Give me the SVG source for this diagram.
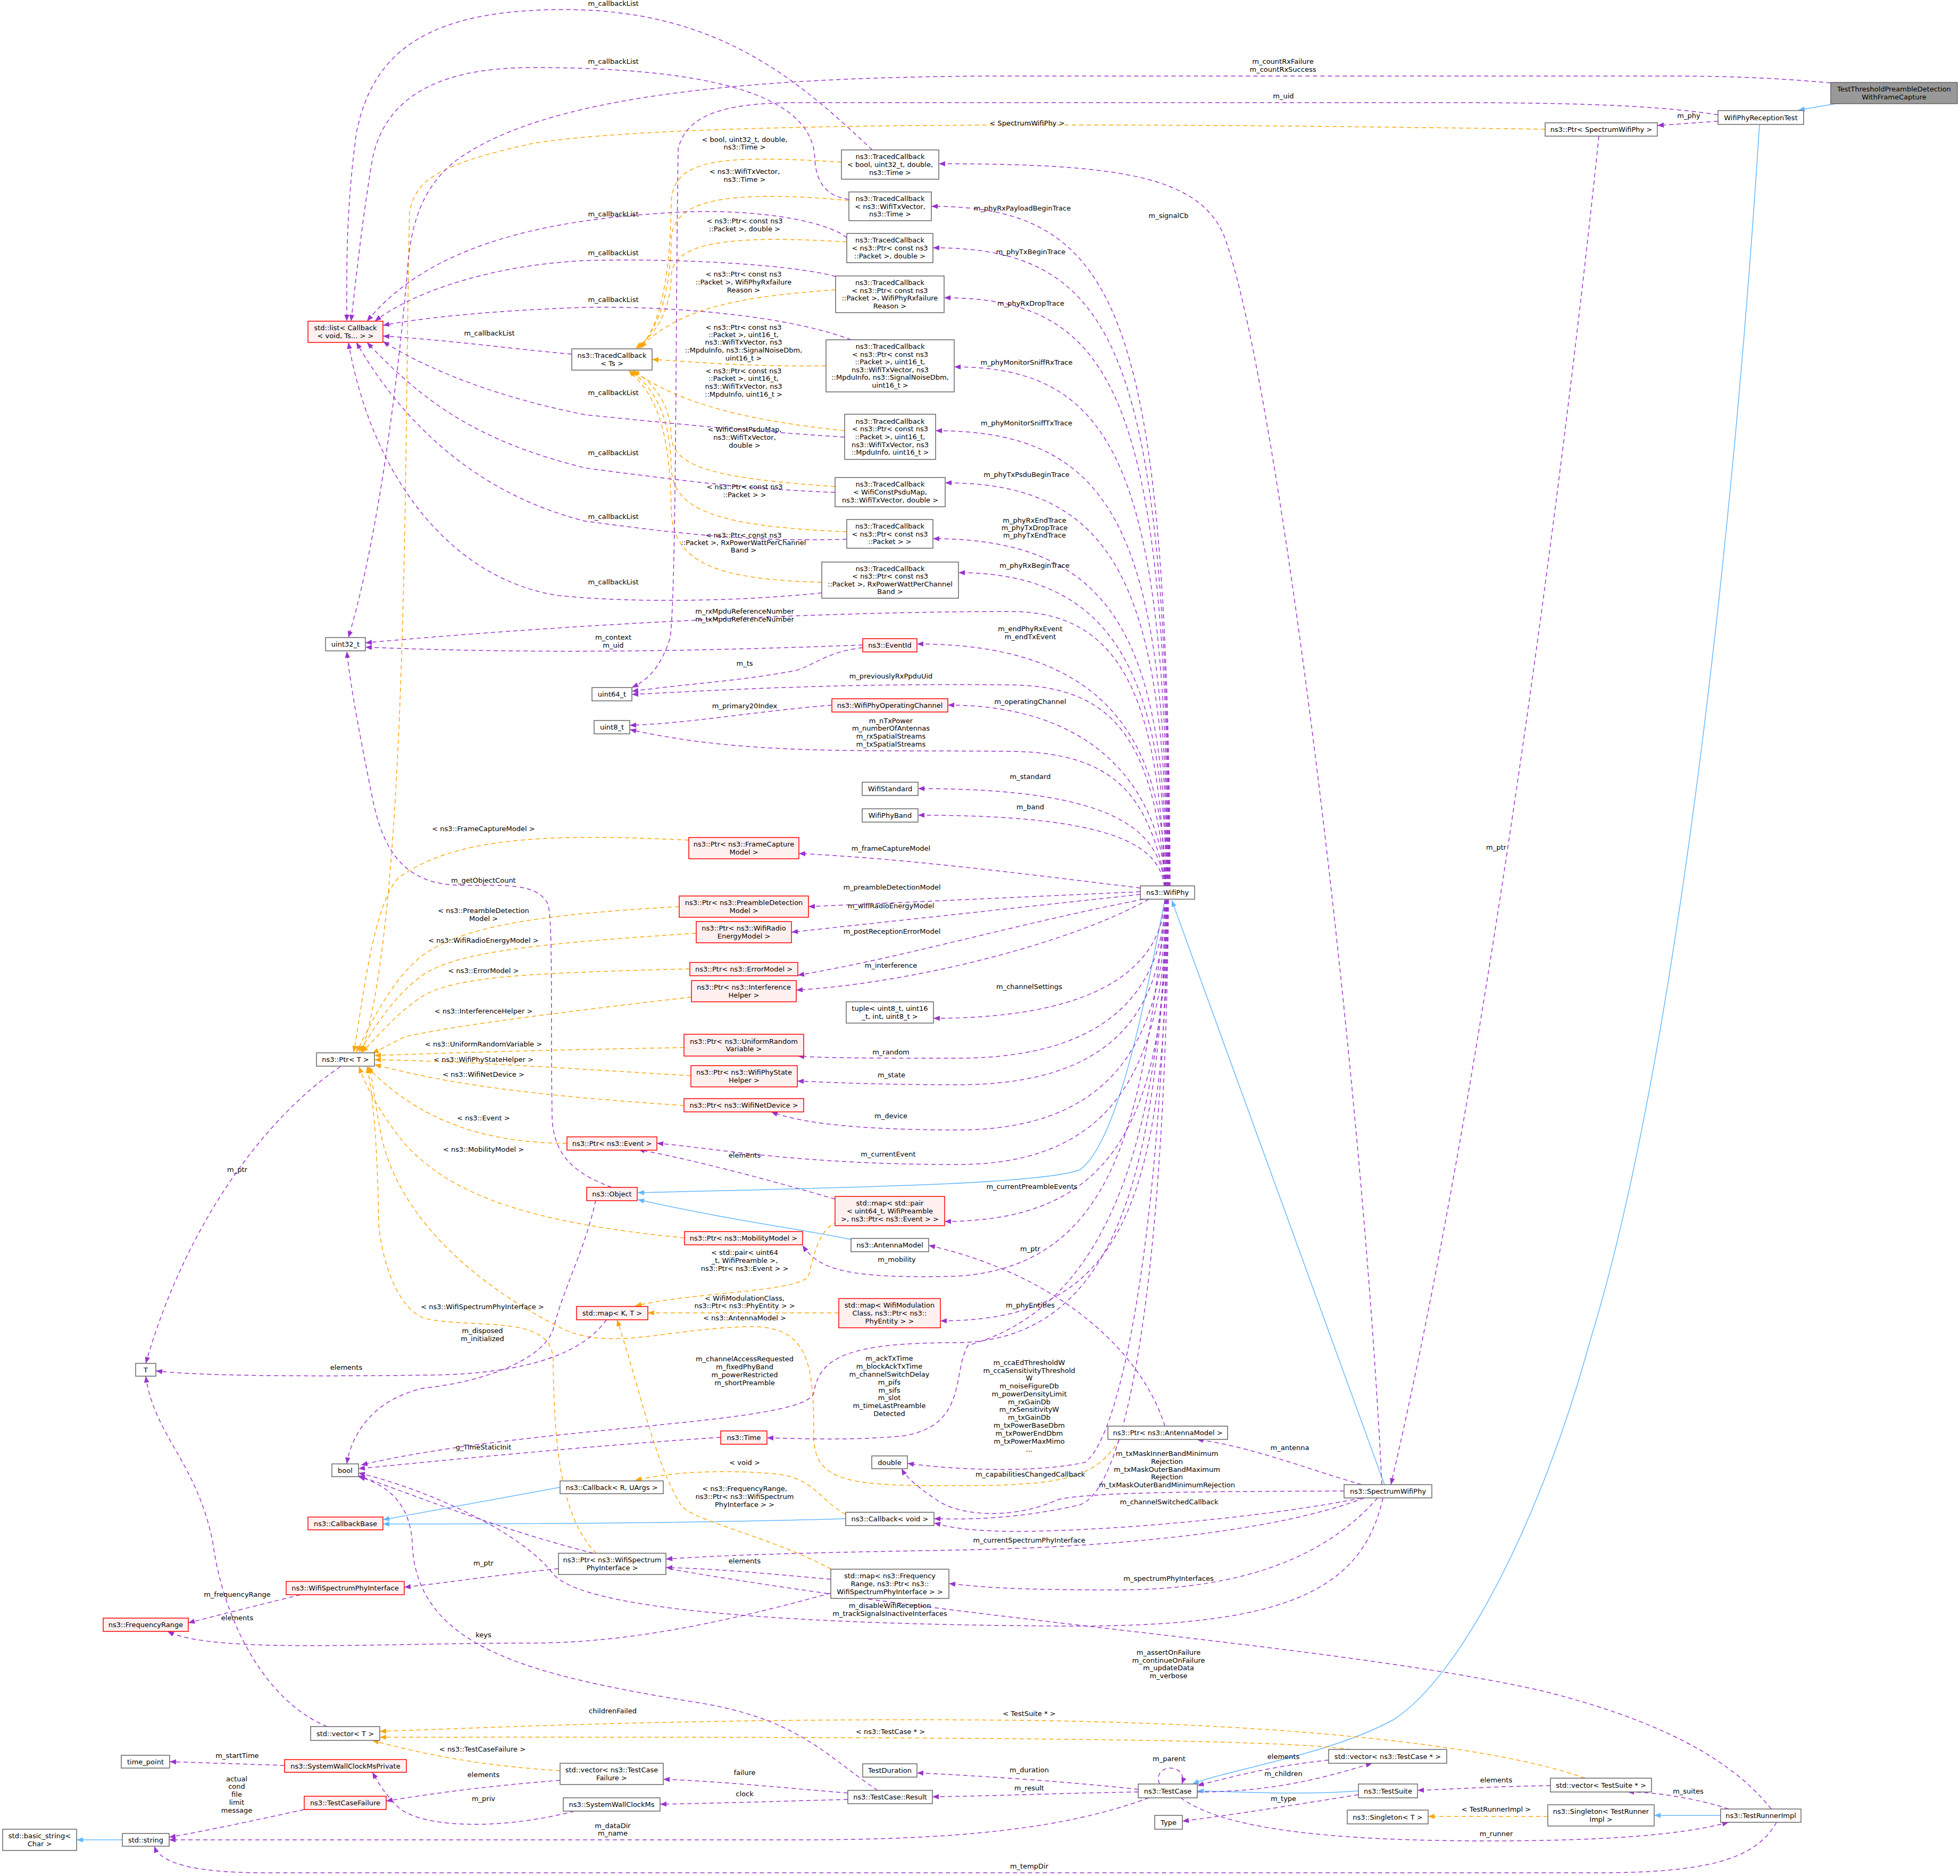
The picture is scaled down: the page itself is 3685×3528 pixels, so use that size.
<svg xmlns="http://www.w3.org/2000/svg" width="3685" height="3528" viewBox="0 0 3685 3528">
<style>
rect{stroke-width:1.5}
.n{fill:#fff;stroke:#666}
.r{fill:#fff0f0;stroke:#f00}
.g{fill:#999;stroke:#666}
text{font-family:"DejaVu Sans",sans-serif;font-size:13px;fill:#000;text-anchor:middle}
.p{fill:none;stroke:#9a32cd;stroke-width:1.5;stroke-dasharray:8,6;marker-end:url(#ap)}
.o{fill:none;stroke:#ffa500;stroke-width:1.5;stroke-dasharray:8,6;marker-end:url(#ao)}
.b{fill:none;stroke:#63b8ff;stroke-width:1.5;marker-end:url(#ab)}
</style>
<defs>
<marker id="ap" viewBox="0 0 10 10" refX="10" refY="5" markerWidth="15" markerHeight="12" markerUnits="userSpaceOnUse" orient="auto"><path d="M0,1 L10,5 L0,9 z" fill="#9a32cd"/></marker>
<marker id="ao" viewBox="0 0 10 10" refX="10" refY="5" markerWidth="15" markerHeight="12" markerUnits="userSpaceOnUse" orient="auto"><path d="M0,1 L10,5 L0,9 z" fill="#ffa500"/></marker>
<marker id="ab" viewBox="0 0 10 10" refX="10" refY="5" markerWidth="15" markerHeight="12" markerUnits="userSpaceOnUse" orient="auto"><path d="M0,1 L10,5 L0,9 z" fill="#63b8ff"/></marker>
</defs>
<rect width="3685" height="3528" fill="#fff"/>
<g id="edges">
<path class="b" d="M3452,195 L3381,207"/>
<path class="b" d="M3308,234 C3260,1000 3150,2000 2990,2520 C2900,2850 2750,3150 2620,3234 C2500,3300 2300,3330 2242,3355"/>
<path class="b" d="M2603,2792 L2203,1693"/>
<path class="b" d="M2190,1692 C2150,1900 2100,2150 2030,2200 C1950,2230 1500,2235 1199,2243"/>
<path class="b" d="M1600,2331 C1500,2310 1400,2300 1199,2256"/>
<path class="b" d="M1053,2797 L720,2858"/>
<path class="b" d="M1590,2856 C1300,2865 900,2866 720,2866"/>
<path class="b" d="M2554,3368 C2450,3376 2350,3370 2251,3368"/>
<path class="b" d="M230,3460 L144,3460"/>
<path class="b" d="M3235,3414 L3110,3414"/>

<path class="o" d="M1582,305 C1350,290 1265,300 1262,380 C1260,560 1230,620 1205,655"/>
<path class="o" d="M1596,377 C1350,355 1265,380 1262,450 C1260,570 1230,625 1200,655"/>
<path class="o" d="M1592,455 C1350,440 1265,460 1262,520 C1260,590 1230,630 1195,655"/>
<path class="o" d="M1571,545 C1350,560 1270,590 1200,655"/>
<path class="o" d="M1553,688 C1400,690 1300,680 1226,676"/>
<path class="o" d="M1588,810 C1400,790 1280,760 1190,697"/>
<path class="o" d="M1570,915 C1350,900 1265,880 1262,820 C1260,760 1230,720 1190,697"/>
<path class="o" d="M1592,1000 C1350,990 1265,960 1262,880 C1260,780 1230,730 1185,697"/>
<path class="o" d="M1545,1095 C1350,1090 1265,1060 1262,960 C1260,800 1230,740 1182,697"/>
<path class="o" d="M2905,243 C2400,236 1300,220 1000,270 C820,310 780,340 770,400 C760,800 770,1700 680,1979"/>
<path class="o" d="M1295,1580 C1000,1565 850,1580 750,1650 C700,1700 680,1900 665,1979"/>
<path class="o" d="M1277,1705 C1000,1720 860,1745 790,1800 C730,1850 690,1940 670,1979"/>
<path class="o" d="M1309,1755 C1000,1775 870,1790 800,1830 C740,1870 700,1940 675,1979"/>
<path class="o" d="M1297,1822 C1000,1830 870,1835 800,1870 C750,1900 710,1950 680,1979"/>
<path class="o" d="M1300,1875 C1000,1910 850,1930 760,1950 L700,1981"/>
<path class="o" d="M1286,1970 C1000,1975 850,1980 704,1985"/>
<path class="o" d="M1299,2023 C1000,2005 850,1995 704,1993"/>
<path class="o" d="M1286,2079 C1000,2060 850,2040 704,2002"/>
<path class="o" d="M1066,2150 C900,2150 780,2100 690,2006"/>
<path class="o" d="M1287,2328 C1000,2300 850,2250 760,2150 C720,2100 690,2050 675,2006"/>
<path class="o" d="M1121,2921 C1050,2850 1042,2700 1040,2560 C1040,2470 900,2500 800,2480 C740,2460 715,2350 712,2300 C710,2150 700,2050 690,2006"/>
<path class="o" d="M2105,2707 C2060,2780 2000,2794 1800,2794 C1600,2794 1530,2790 1530,2700 C1530,2560 1520,2490 1400,2495 C1250,2500 1150,2540 1060,2500 C900,2420 760,2300 720,2150 C705,2080 700,2030 695,2006"/>
<path class="o" d="M1575,2298 C1540,2310 1530,2360 1520,2400 C1500,2430 1300,2430 1194,2456"/>
<path class="o" d="M1577,2469 L1218,2469"/>
<path class="o" d="M1563,2951 C1450,2890 1300,2860 1280,2830 C1230,2750 1200,2600 1160,2482"/>
<path class="o" d="M1590,2848 C1540,2820 1530,2780 1460,2772 C1350,2762 1250,2770 1194,2784"/>
<path class="o" d="M1053,3330 C900,3320 800,3300 700,3273"/>
<path class="o" d="M2540,3290 C2400,3270 1800,3266 714,3267"/>
<path class="o" d="M2980,3344 C2800,3280 2400,3240 1900,3235 C1300,3230 900,3250 714,3256"/>
<path class="o" d="M2910,3416 L2685,3416"/>

<path class="p" d="M1640,282 C1500,150 1350,18 1060,18 C800,18 700,100 670,250 C650,400 652,500 652,604"/>
<path class="p" d="M1596,375 C1560,370 1535,350 1532,300 C1530,200 1400,127 1000,127 C800,127 720,200 700,300 C680,420 670,520 660,604"/>
<path class="p" d="M1592,447 C1560,420 1450,395 1300,398 C1000,410 800,470 690,604"/>
<path class="p" d="M1571,520 C1500,500 1300,485 1100,490 C900,500 760,560 705,604"/>
<path class="p" d="M1600,639 C1500,600 1300,575 1100,578 C900,585 780,600 720,612"/>
<path class="p" d="M1588,822 C1400,810 1300,800 1100,780 C900,740 780,680 720,642"/>
<path class="p" d="M1570,926 C1400,920 1250,900 1100,880 C900,830 800,760 690,644"/>
<path class="p" d="M1592,1014 C1400,1020 1250,1000 1100,980 C900,930 760,800 670,644"/>
<path class="p" d="M1545,1115 C1400,1130 1200,1135 1050,1120 C850,1090 700,900 655,644"/>
<path class="p" d="M1075,666 C950,655 850,640 720,632"/>
<path class="p" d="M3442,156 C3300,143 3200,143 3100,143 L1900,143 C1300,143 1000,200 860,300 C780,360 770,450 765,520 C740,800 700,1050 655,1199"/>
<path class="p" d="M3230,216 C3100,195 2900,193 2700,193 L1500,193 C1350,193 1290,220 1275,280 C1270,600 1272,1100 1260,1200 C1240,1260 1215,1280 1188,1293"/>
<path class="p" d="M3230,228 L3116,236"/>
<path class="p" d="M3006,256 C2950,800 2800,2000 2615,2792"/>
<path class="p" d="M2598,2792 C2560,2000 2400,700 2300,440 C2250,330 2100,308 1765,308"/>
<path class="p" d="M2200,1667 C2195,588 2105,388 1751,388"/>
<path class="p" d="M2199,1667 C2194,666 2104,466 1754,466"/>
<path class="p" d="M2198,1667 C2193,760 2103,560 1775,560"/>
<path class="p" d="M2197,1667 C2192,890 2102,690 1794,690"/>
<path class="p" d="M2196,1667 C2191,1010 2101,810 1759,810"/>
<path class="p" d="M2195,1667 C2190,1108 2100,908 1777,908"/>
<path class="p" d="M2194,1667 C2189,1213 2099,1013 1754,1013"/>
<path class="p" d="M2193,1667 C2188,1277 2098,1077 1802,1077"/>
<path class="p" d="M2190,1667 C2180,1300 2100,1150 1900,1150 C1500,1150 1000,1180 687,1209"/>
<path class="p" d="M1622,1213 C1300,1225 1000,1230 687,1217"/>
<path class="p" d="M1622,1218 C1560,1225 1540,1245 1500,1260 C1400,1280 1300,1285 1188,1300"/>
<path class="p" d="M2192,1667 C2187,1411 2097,1211 1724,1211"/>
<path class="p" d="M2192,1667 C2170,1400 2100,1290 1900,1288 C1600,1285 1400,1295 1188,1306"/>
<path class="p" d="M1564,1326 C1400,1340 1300,1360 1184,1364"/>
<path class="p" d="M2191,1667 C2186,1526 2096,1326 1782,1326"/>
<path class="p" d="M2193,1667 C2160,1500 2100,1415 1900,1413 C1600,1410 1400,1420 1184,1372"/>
<path class="p" d="M2190,1667 C2180,1560 2096,1483 1726,1483"/>
<path class="p" d="M2189,1667 C2180,1590 2096,1533 1726,1533"/>
<path class="p" d="M2144,1670 C1900,1640 1700,1615 1502,1605"/>
<path class="p" d="M2144,1677 L1520,1705"/>
<path class="p" d="M2144,1682 L1488,1753"/>
<path class="p" d="M2150,1691 C1900,1740 1700,1800 1500,1834"/>
<path class="p" d="M2160,1691 C2000,1780 1700,1850 1497,1862"/>
<path class="p" d="M2190,1692 C2185,1800 2095,1915 1755,1915"/>
<path class="p" d="M2191,1692 C2186,1850 2096,1990 1800,1990 C1650,1990 1550,1990 1500,1986"/>
<path class="p" d="M2192,1692 C2187,1900 2097,2040 1800,2040 C1650,2040 1550,2035 1499,2033"/>
<path class="p" d="M2193,1692 C2188,1950 2098,2125 1800,2125 C1600,2125 1500,2110 1450,2091"/>
<path class="p" d="M2194,1692 C2189,2000 2099,2190 1800,2190 C1500,2190 1350,2160 1235,2150"/>
<path class="p" d="M1570,2255 C1450,2220 1300,2180 1200,2162"/>
<path class="p" d="M2195,1692 C2190,2100 2100,2297 1776,2297"/>
<path class="p" d="M2192,1692 C2150,2100 2100,2380 1800,2400 C1600,2405 1540,2390 1509,2342"/>
<path class="p" d="M2190,2682 C2150,2550 2000,2400 1746,2342"/>
<path class="p" d="M2196,1692 C2191,2284 2101,2484 1768,2484"/>
<path class="p" d="M2193,1692 C2180,2200 2100,2520 1800,2525 C1600,2525 1540,2550 1530,2620 C1510,2680 1000,2680 679,2755"/>
<path class="p" d="M2194,1692 C2180,2300 2000,2480 1820,2530 C1790,2580 1820,2680 1700,2700 C1600,2710 1500,2705 1442,2704"/>
<path class="p" d="M2195,1692 C2185,2300 2110,2700 2040,2750 C1950,2770 1800,2765 1706,2752"/>
<path class="p" d="M2527,2804 C2300,2805 2050,2805 1990,2820 C1900,2860 1800,2850 1760,2820 C1730,2800 1705,2780 1695,2762"/>
<path class="p" d="M2197,1692 C2190,2400 2120,2800 2030,2830 C1900,2860 1800,2857 1756,2856"/>
<path class="p" d="M2560,2817 C2400,2850 2100,2880 1900,2880 C1800,2878 1780,2870 1756,2864"/>
<path class="p" d="M2560,2792 C2450,2760 2350,2720 2250,2707"/>
<path class="p" d="M2565,2817 C2400,2880 2100,2910 1800,2915 C1500,2920 1350,2925 1252,2932"/>
<path class="p" d="M2590,2817 C2500,2920 2350,2990 2100,2990 C1900,2990 1850,2985 1784,2978"/>
<path class="p" d="M2600,2817 C2560,3000 2400,3060 2000,3058 C1500,3055 1100,3030 1040,2960 C980,2880 800,2800 674,2770"/>
<path class="p" d="M3330,3402 C3250,3300 3100,3230 2900,3180 C2500,3090 1800,3050 1200,2940 C1000,2900 800,2820 674,2775"/>
<path class="p" d="M1650,3367 C1550,3300 1500,3230 1300,3200 C1000,3150 780,3100 775,2900 C770,2820 720,2790 674,2777"/>
<path class="p" d="M1150,2233 C1090,2210 1040,2180 1038,2100 C1035,1900 1040,1730 1030,1700 C1010,1660 950,1665 870,1665 C760,1665 720,1600 700,1500 C680,1400 660,1300 652,1225"/>
<path class="p" d="M1120,2257 C1100,2350 1060,2420 1040,2500 C1020,2560 900,2600 800,2610 C700,2630 660,2700 652,2753"/>
<path class="p" d="M1140,2482 C1100,2540 1000,2585 800,2586 C500,2590 350,2585 293,2578"/>
<path class="p" d="M640,2006 C500,2100 350,2300 274,2564"/>
<path class="p" d="M1355,2703 C1100,2720 900,2740 674,2762"/>
<path class="p" d="M1050,2950 C950,2960 850,2975 760,2985"/>
<path class="p" d="M565,2999 C480,3020 400,3040 354,3052"/>
<path class="p" d="M1562,2970 C1450,2960 1350,2950 1252,2948"/>
<path class="p" d="M1562,2996 C1400,3040 1200,3090 1000,3090 C700,3090 400,3110 315,3068"/>
<path class="p" d="M615,3247 C500,3200 420,3050 400,2900 C370,2750 290,2700 274,2588"/>
<path class="p" d="M535,3320 L319,3313"/>
<path class="p" d="M1053,3348 C900,3360 800,3375 726,3387"/>
<path class="p" d="M1080,3406 C950,3440 800,3440 750,3400 C720,3370 710,3350 700,3333"/>
<path class="p" d="M572,3403 C450,3430 350,3450 318,3455"/>
<path class="p" d="M1594,3372 C1450,3360 1350,3350 1247,3346"/>
<path class="p" d="M1594,3384 C1450,3388 1350,3391 1241,3393"/>
<path class="p" d="M2140,3365 C2000,3350 1850,3340 1724,3334"/>
<path class="p" d="M2140,3370 C2000,3372 1850,3378 1753,3379"/>
<path class="p" d="M2180,3355 C2165,3315 2235,3315 2222,3355"/>
<path class="p" d="M2251,3370 C2400,3370 2500,3340 2580,3316"/>
<path class="p" d="M2498,3310 C2400,3320 2320,3340 2251,3358"/>
<path class="p" d="M2160,3381 C2000,3440 1800,3460 1500,3460 L318,3460"/>
<path class="p" d="M2220,3381 C2300,3440 2500,3462 2800,3462 C3100,3462 3200,3440 3250,3427"/>
<path class="p" d="M2554,3375 C2400,3400 2300,3415 2223,3425"/>
<path class="p" d="M2915,3358 C2800,3360 2720,3365 2665,3367"/>
<path class="p" d="M3250,3402 C3200,3385 3120,3370 3060,3370"/>
<path class="p" d="M3340,3427 C3300,3500 3200,3522 3000,3522 L500,3522 C350,3522 300,3500 290,3472"/>
</g>
<g id="labels">
<text x="2412" y="120">m_countRxFailure</text><text x="2412" y="135">m_countRxSuccess</text>
<text x="2413" y="185">m_uid</text>
<text x="3175" y="222">m_phy</text>
<text x="1931" y="236">&lt; SpectrumWifiPhy &gt;</text>
<text x="2197" y="410">m_signalCb</text>
<text x="2813" y="1598">m_ptr</text>
<text x="1153" y="11">m_callbackList</text>
<text x="1153" y="120">m_callbackList</text>
<text x="1153" y="407">m_callbackList</text>
<text x="1153" y="480">m_callbackList</text>
<text x="1153" y="568">m_callbackList</text>
<text x="920" y="631">m_callbackList</text>
<text x="1153" y="743">m_callbackList</text>
<text x="1153" y="856">m_callbackList</text>
<text x="1153" y="976">m_callbackList</text>
<text x="1153" y="1099">m_callbackList</text>
<text x="1400" y="267">&lt; bool, uint32_t, double,</text><text x="1400" y="281">ns3::Time &gt;</text>
<text x="1400" y="327">&lt; ns3::WifiTxVector,</text><text x="1400" y="342">ns3::Time &gt;</text>
<text x="1400" y="420">&lt; ns3::Ptr&lt; const ns3</text><text x="1400" y="435">::Packet &gt;, double &gt;</text>
<text x="1398" y="520">&lt; ns3::Ptr&lt; const ns3</text><text x="1398" y="535">::Packet &gt;, WifiPhyRxfailure</text><text x="1398" y="550">Reason &gt;</text>
<text x="1398" y="620">&lt; ns3::Ptr&lt; const ns3</text><text x="1398" y="634">::Packet &gt;, uint16_t,</text><text x="1398" y="648">ns3::WifiTxVector, ns3</text><text x="1398" y="663">::MpduInfo, ns3::SignalNoiseDbm,</text><text x="1398" y="678">uint16_t &gt;</text>
<text x="1398" y="702">&lt; ns3::Ptr&lt; const ns3</text><text x="1398" y="716">::Packet &gt;, uint16_t,</text><text x="1398" y="731">ns3::WifiTxVector, ns3</text><text x="1398" y="746">::MpduInfo, uint16_t &gt;</text>
<text x="1400" y="812">&lt; WifiConstPsduMap,</text><text x="1400" y="827">ns3::WifiTxVector,</text><text x="1400" y="842">double &gt;</text>
<text x="1400" y="920">&lt; ns3::Ptr&lt; const ns3</text><text x="1400" y="935">::Packet &gt; &gt;</text>
<text x="1398" y="1011">&lt; ns3::Ptr&lt; const ns3</text><text x="1398" y="1025">::Packet &gt;, RxPowerWattPerChannel</text><text x="1398" y="1039">Band &gt;</text>
<text x="1922" y="396">m_phyRxPayloadBeginTrace</text>
<text x="1938" y="478">m_phyTxBeginTrace</text>
<text x="1938" y="575">m_phyRxDropTrace</text>
<text x="1930" y="686">m_phyMonitorSniffRxTrace</text>
<text x="1930" y="800">m_phyMonitorSniffTxTrace</text>
<text x="1930" y="897">m_phyTxPsduBeginTrace</text>
<text x="1945" y="983">m_phyRxEndTrace</text><text x="1945" y="997">m_phyTxDropTrace</text><text x="1945" y="1011">m_phyTxEndTrace</text>
<text x="1945" y="1068">m_phyRxBeginTrace</text>
<text x="1400" y="1154">m_rxMpduReferenceNumber</text><text x="1400" y="1169">m_txMpduReferenceNumber</text>
<text x="1153" y="1203">m_context</text><text x="1153" y="1218">m_uid</text>
<text x="1937" y="1187">m_endPhyRxEvent</text><text x="1937" y="1202">m_endTxEvent</text>
<text x="1400" y="1252">m_ts</text>
<text x="1675" y="1276">m_previouslyRxPpduUid</text>
<text x="1400" y="1332">m_primary20Index</text>
<text x="1937" y="1324">m_operatingChannel</text>
<text x="1675" y="1360">m_nTxPower</text><text x="1675" y="1374">m_numberOfAntennas</text><text x="1675" y="1389">m_rxSpatialStreams</text><text x="1675" y="1404">m_txSpatialStreams</text>
<text x="1937" y="1465">m_standard</text>
<text x="1937" y="1522">m_band</text>
<text x="1675" y="1600">m_frameCaptureModel</text>
<text x="1677" y="1673">m_preambleDetectionModel</text>
<text x="1675" y="1708">m_wifiRadioEnergyModel</text>
<text x="1677" y="1756">m_postReceptionErrorModel</text>
<text x="1675" y="1820">m_interference</text>
<text x="1935" y="1860">m_channelSettings</text>
<text x="1675" y="1983">m_random</text>
<text x="1676" y="2026">m_state</text>
<text x="1675" y="2103">m_device</text>
<text x="1670" y="2175">m_currentEvent</text>
<text x="1400" y="2177">elements</text>
<text x="1940" y="2236">m_currentPreambleEvents</text>
<text x="1937" y="2353">m_ptr</text>
<text x="1686" y="2373">m_mobility</text>
<text x="1937" y="2459">m_phyEntities</text>
<text x="909" y="1563">&lt; ns3::FrameCaptureModel &gt;</text>
<text x="909" y="1660">m_getObjectCount</text>
<text x="909" y="1717">&lt; ns3::PreambleDetection</text><text x="909" y="1732">Model &gt;</text>
<text x="909" y="1773">&lt; ns3::WifiRadioEnergyModel &gt;</text>
<text x="909" y="1830">&lt; ns3::ErrorModel &gt;</text>
<text x="909" y="1906">&lt; ns3::InterferenceHelper &gt;</text>
<text x="909" y="1968">&lt; ns3::UniformRandomVariable &gt;</text>
<text x="909" y="1997">&lt; ns3::WifiPhyStateHelper &gt;</text>
<text x="909" y="2025">&lt; ns3::WifiNetDevice &gt;</text>
<text x="909" y="2107">&lt; ns3::Event &gt;</text>
<text x="909" y="2166">&lt; ns3::MobilityModel &gt;</text>
<text x="446" y="2204">m_ptr</text>
<text x="1400" y="2360">&lt; std::pair&lt; uint64</text><text x="1400" y="2375">_t, WifiPreamble &gt;,</text><text x="1400" y="2390">ns3::Ptr&lt; ns3::Event &gt; &gt;</text>
<text x="1400" y="2446">&lt; WifiModulationClass,</text><text x="1400" y="2460">ns3::Ptr&lt; ns3::PhyEntity &gt; &gt;</text>
<text x="1400" y="2483">&lt; ns3::AntennaModel &gt;</text>
<text x="907" y="2462">&lt; ns3::WifiSpectrumPhyInterface &gt;</text>
<text x="907" y="2507">m_disposed</text><text x="907" y="2522">m_initialized</text>
<text x="651" y="2576">elements</text>
<text x="1400" y="2560">m_channelAccessRequested</text><text x="1400" y="2575">m_fixedPhyBand</text><text x="1400" y="2590">m_powerRestricted</text><text x="1400" y="2605">m_shortPreamble</text>
<text x="1672" y="2559">m_ackTxTime</text><text x="1672" y="2574">m_blockAckTxTime</text><text x="1672" y="2589">m_channelSwitchDelay</text><text x="1672" y="2604">m_pifs</text><text x="1672" y="2619">m_sifs</text><text x="1672" y="2633">m_slot</text><text x="1672" y="2648">m_timeLastPreamble</text><text x="1672" y="2663">Detected</text>
<text x="1935" y="2567">m_ccaEdThresholdW</text><text x="1935" y="2582">m_ccaSensitivityThreshold</text><text x="1935" y="2596">W</text><text x="1935" y="2611">m_noiseFigureDb</text><text x="1935" y="2626">m_powerDensityLimit</text><text x="1935" y="2641">m_rxGainDb</text><text x="1935" y="2655">m_rxSensitivityW</text><text x="1935" y="2670">m_txGainDb</text><text x="1935" y="2685">m_txPowerBaseDbm</text><text x="1935" y="2700">m_txPowerEndDbm</text><text x="1935" y="2715">m_txPowerMaxMimo</text><text x="1935" y="2730">...</text>
<text x="2194" y="2738">m_txMaskInnerBandMinimum</text><text x="2194" y="2753">Rejection</text><text x="2194" y="2768">m_txMaskOuterBandMaximum</text><text x="2194" y="2782">Rejection</text><text x="2194" y="2797">m_txMaskOuterBandMinimumRejection</text>
<text x="1937" y="2777">m_capabilitiesChangedCallback</text>
<text x="2425" y="2727">m_antenna</text>
<text x="2198" y="2829">m_channelSwitchedCallback</text>
<text x="909" y="2726">g_TimeStaticInit</text>
<text x="1400" y="2755">&lt; void &gt;</text>
<text x="1400" y="2804">&lt; ns3::FrequencyRange,</text><text x="1400" y="2819">ns3::Ptr&lt; ns3::WifiSpectrum</text><text x="1400" y="2834">PhyInterface &gt; &gt;</text>
<text x="1935" y="2901">m_currentSpectrumPhyInterface</text>
<text x="909" y="2944">m_ptr</text>
<text x="1400" y="2940">elements</text>
<text x="2197" y="2973">m_spectrumPhyInterfaces</text>
<text x="446" y="3003">m_frequencyRange</text>
<text x="1673" y="3024">m_disableWifiReception</text><text x="1673" y="3039">m_trackSignalsInactiveInterfaces</text>
<text x="446" y="3047">elements</text>
<text x="909" y="3079">keys</text>
<text x="2197" y="3112">m_assertOnFailure</text><text x="2197" y="3127">m_continueOnFailure</text><text x="2197" y="3141">m_updateData</text><text x="2197" y="3156">m_verbose</text>
<text x="1152" y="3222">childrenFailed</text>
<text x="1935" y="3227">&lt; TestSuite * &gt;</text>
<text x="1674" y="3261">&lt; ns3::TestCase * &gt;</text>
<text x="907" y="3294">&lt; ns3::TestCaseFailure &gt;</text>
<text x="446" y="3306">m_startTime</text>
<text x="909" y="3342">elements</text>
<text x="1400" y="3338">failure</text>
<text x="445" y="3350">actual</text><text x="445" y="3364">cond</text><text x="445" y="3379">file</text><text x="445" y="3394">limit</text><text x="445" y="3409">message</text>
<text x="909" y="3387">m_priv</text>
<text x="1400" y="3378">clock</text>
<text x="1152" y="3438">m_dataDir</text><text x="1152" y="3452">m_name</text>
<text x="2198" y="3312">m_parent</text>
<text x="2413" y="3308">elements</text>
<text x="2413" y="3340">m_children</text>
<text x="1935" y="3333">m_duration</text>
<text x="1935" y="3367">m_result</text>
<text x="2413" y="3387">m_type</text>
<text x="2813" y="3352">elements</text>
<text x="2813" y="3407">&lt; TestRunnerImpl &gt;</text>
<text x="3174" y="3373">m_suites</text>
<text x="2813" y="3453">m_runner</text>
<text x="1935" y="3514">m_tempDir</text>
</g>
<g id="n1"><rect class="g" x="3442" y="155" width="238" height="40"/><text x="3561" y="172.2">TestThresholdPreambleDetection</text><text x="3561" y="186.8">WithFrameCapture</text></g>
<g id="n2"><rect class="n" x="3230" y="208" width="161" height="26"/><text x="3310.5" y="225.5">WifiPhyReceptionTest</text></g>
<g id="n3"><rect class="n" x="2905" y="231" width="211" height="25"/><text x="3010.5" y="248">ns3::Ptr&lt; SpectrumWifiPhy &gt;</text></g>
<g id="n4"><rect class="r" x="579" y="604" width="141" height="40"/><text x="649.5" y="621.2">std::list&lt; Callback</text><text x="649.5" y="635.8">&lt; void, Ts... &gt; &gt;</text></g>
<g id="n5"><rect class="n" x="1075" y="656" width="151" height="40"/><text x="1150.5" y="673.2">ns3::TracedCallback</text><text x="1150.5" y="687.8">&lt; Ts &gt;</text></g>
<g id="n6"><rect class="n" x="1582" y="282" width="183" height="55"/><text x="1673.5" y="299.4">ns3::TracedCallback</text><text x="1673.5" y="314">&lt; bool, uint32_t, double,</text><text x="1673.5" y="328.6">ns3::Time &gt;</text></g>
<g id="n7"><rect class="n" x="1596" y="361" width="155" height="54"/><text x="1673.5" y="377.9">ns3::TracedCallback</text><text x="1673.5" y="392.5">&lt; ns3::WifiTxVector,</text><text x="1673.5" y="407.1">ns3::Time &gt;</text></g>
<g id="n8"><rect class="n" x="1592" y="439" width="162" height="55"/><text x="1673" y="456.4">ns3::TracedCallback</text><text x="1673" y="471">&lt; ns3::Ptr&lt; const ns3</text><text x="1673" y="485.6">::Packet &gt;, double &gt;</text></g>
<g id="n9"><rect class="n" x="1571" y="519" width="204" height="69"/><text x="1673" y="536.1">ns3::TracedCallback</text><text x="1673" y="550.7">&lt; ns3::Ptr&lt; const ns3</text><text x="1673" y="565.3">::Packet &gt;, WifiPhyRxfailure</text><text x="1673" y="579.9">Reason &gt;</text></g>
<g id="n10"><rect class="n" x="1553" y="639" width="241" height="98"/><text x="1673.5" y="656">ns3::TracedCallback</text><text x="1673.5" y="670.6">&lt; ns3::Ptr&lt; const ns3</text><text x="1673.5" y="685.2">::Packet &gt;, uint16_t,</text><text x="1673.5" y="699.8">ns3::WifiTxVector, ns3</text><text x="1673.5" y="714.4">::MpduInfo, ns3::SignalNoiseDbm,</text><text x="1673.5" y="729">uint16_t &gt;</text></g>
<g id="n11"><rect class="n" x="1588" y="779" width="171" height="85"/><text x="1673.5" y="796.8">ns3::TracedCallback</text><text x="1673.5" y="811.4">&lt; ns3::Ptr&lt; const ns3</text><text x="1673.5" y="826">::Packet &gt;, uint16_t,</text><text x="1673.5" y="840.6">ns3::WifiTxVector, ns3</text><text x="1673.5" y="855.2">::MpduInfo, uint16_t &gt;</text></g>
<g id="n12"><rect class="n" x="1570" y="898" width="207" height="55"/><text x="1673.5" y="915.4">ns3::TracedCallback</text><text x="1673.5" y="930">&lt; WifiConstPsduMap,</text><text x="1673.5" y="944.6">ns3::WifiTxVector, double &gt;</text></g>
<g id="n13"><rect class="n" x="1592" y="977" width="162" height="54"/><text x="1673" y="993.9">ns3::TracedCallback</text><text x="1673" y="1008.5">&lt; ns3::Ptr&lt; const ns3</text><text x="1673" y="1023.1">::Packet &gt; &gt;</text></g>
<g id="n14"><rect class="n" x="1545" y="1057" width="257" height="68"/><text x="1673.5" y="1073.6">ns3::TracedCallback</text><text x="1673.5" y="1088.2">&lt; ns3::Ptr&lt; const ns3</text><text x="1673.5" y="1102.8">::Packet &gt;, RxPowerWattPerChannel</text><text x="1673.5" y="1117.4">Band &gt;</text></g>
<g id="n15"><rect class="n" x="612" y="1199" width="75" height="25"/><text x="649.5" y="1216">uint32_t</text></g>
<g id="n16"><rect class="r" x="1622" y="1201" width="102" height="25"/><text x="1673" y="1218">ns3::EventId</text></g>
<g id="n17"><rect class="n" x="1113" y="1293" width="75" height="25"/><text x="1150.5" y="1310">uint64_t</text></g>
<g id="n18"><rect class="r" x="1564" y="1314" width="218" height="25"/><text x="1673" y="1331">ns3::WifiPhyOperatingChannel</text></g>
<g id="n19"><rect class="n" x="1117" y="1355" width="67" height="25"/><text x="1150.5" y="1372">uint8_t</text></g>
<g id="n20"><rect class="n" x="1621" y="1471" width="105" height="25"/><text x="1673.5" y="1488">WifiStandard</text></g>
<g id="n21"><rect class="n" x="1621" y="1521" width="105" height="25"/><text x="1673.5" y="1538">WifiPhyBand</text></g>
<g id="n22"><rect class="r" x="1295" y="1575" width="207" height="40"/><text x="1398.5" y="1592.2">ns3::Ptr&lt; ns3::FrameCapture</text><text x="1398.5" y="1606.8">Model &gt;</text></g>
<g id="n23"><rect class="n" x="2144" y="1666" width="102" height="25"/><text x="2195" y="1683">ns3::WifiPhy</text></g>
<g id="n24"><rect class="r" x="1277" y="1685" width="243" height="40"/><text x="1398.5" y="1702.2">ns3::Ptr&lt; ns3::PreambleDetection</text><text x="1398.5" y="1716.8">Model &gt;</text></g>
<g id="n25"><rect class="r" x="1309" y="1733" width="179" height="40"/><text x="1398.5" y="1750.2">ns3::Ptr&lt; ns3::WifiRadio</text><text x="1398.5" y="1764.8">EnergyModel &gt;</text></g>
<g id="n26"><rect class="r" x="1297" y="1810" width="203" height="25"/><text x="1398.5" y="1827">ns3::Ptr&lt; ns3::ErrorModel &gt;</text></g>
<g id="n27"><rect class="r" x="1300" y="1844" width="197" height="40"/><text x="1398.5" y="1861.2">ns3::Ptr&lt; ns3::Interference</text><text x="1398.5" y="1875.8">Helper &gt;</text></g>
<g id="n28"><rect class="n" x="1591" y="1884" width="164" height="40"/><text x="1673" y="1901.2">tuple&lt; uint8_t, uint16</text><text x="1673" y="1915.8">_t, int, uint8_t &gt;</text></g>
<g id="n29"><rect class="n" x="595" y="1980" width="109" height="25"/><text x="649.5" y="1997">ns3::Ptr&lt; T &gt;</text></g>
<g id="n30"><rect class="r" x="1286" y="1945" width="225" height="41"/><text x="1398.5" y="1962.7">ns3::Ptr&lt; ns3::UniformRandom</text><text x="1398.5" y="1977.3">Variable &gt;</text></g>
<g id="n31"><rect class="r" x="1299" y="2004" width="200" height="40"/><text x="1399" y="2021.2">ns3::Ptr&lt; ns3::WifiPhyState</text><text x="1399" y="2035.8">Helper &gt;</text></g>
<g id="n32"><rect class="r" x="1286" y="2066" width="225" height="25"/><text x="1398.5" y="2083">ns3::Ptr&lt; ns3::WifiNetDevice &gt;</text></g>
<g id="n33"><rect class="r" x="1066" y="2138" width="169" height="25"/><text x="1150.5" y="2155">ns3::Ptr&lt; ns3::Event &gt;</text></g>
<g id="n34"><rect class="r" x="1103" y="2233" width="95" height="25"/><text x="1150.5" y="2250">ns3::Object</text></g>
<g id="n35"><rect class="r" x="1570" y="2250" width="206" height="55"/><text x="1673" y="2267.4">std::map&lt; std::pair</text><text x="1673" y="2282">&lt; uint64_t, WifiPreamble</text><text x="1673" y="2296.6">&gt;, ns3::Ptr&lt; ns3::Event &gt; &gt;</text></g>
<g id="n36"><rect class="r" x="1287" y="2316" width="222" height="25"/><text x="1398" y="2333">ns3::Ptr&lt; ns3::MobilityModel &gt;</text></g>
<g id="n37"><rect class="n" x="1600" y="2329" width="146" height="25"/><text x="1673" y="2346">ns3::AntennaModel</text></g>
<g id="n38"><rect class="r" x="1084" y="2457" width="134" height="25"/><text x="1151" y="2474">std::map&lt; K, T &gt;</text></g>
<g id="n39"><rect class="r" x="1577" y="2442" width="191" height="55"/><text x="1672.5" y="2459.4">std::map&lt; WifiModulation</text><text x="1672.5" y="2474">Class, ns3::Ptr&lt; ns3::</text><text x="1672.5" y="2488.6">PhyEntity &gt; &gt;</text></g>
<g id="n40"><rect class="n" x="255" y="2564" width="38" height="24"/><text x="274" y="2580.5">T</text></g>
<g id="n41"><rect class="r" x="1355" y="2691" width="87" height="25"/><text x="1398.5" y="2708">ns3::Time</text></g>
<g id="n42"><rect class="n" x="2083" y="2682" width="225" height="25"/><text x="2195.5" y="2699">ns3::Ptr&lt; ns3::AntennaModel &gt;</text></g>
<g id="n43"><rect class="n" x="624" y="2753" width="50" height="24"/><text x="649" y="2769.5">bool</text></g>
<g id="n44"><rect class="n" x="1639" y="2738" width="67" height="24"/><text x="1672.5" y="2754.5">double</text></g>
<g id="n45"><rect class="n" x="1053" y="2785" width="194" height="24"/><text x="1150" y="2801.5">ns3::Callback&lt; R, UArgs &gt;</text></g>
<g id="n46"><rect class="n" x="2527" y="2792" width="165" height="25"/><text x="2609.5" y="2809">ns3::SpectrumWifiPhy</text></g>
<g id="n47"><rect class="r" x="579" y="2853" width="141" height="24"/><text x="649.5" y="2869.5">ns3::CallbackBase</text></g>
<g id="n48"><rect class="n" x="1590" y="2844" width="166" height="25"/><text x="1673" y="2861">ns3::Callback&lt; void &gt;</text></g>
<g id="n49"><rect class="n" x="1050" y="2921" width="202" height="40"/><text x="1151" y="2938.2">ns3::Ptr&lt; ns3::WifiSpectrum</text><text x="1151" y="2952.8">PhyInterface &gt;</text></g>
<g id="n50"><rect class="n" x="1562" y="2951" width="222" height="55"/><text x="1673" y="2968.4">std::map&lt; ns3::Frequency</text><text x="1673" y="2983">Range, ns3::Ptr&lt; ns3::</text><text x="1673" y="2997.6">WifiSpectrumPhyInterface &gt; &gt;</text></g>
<g id="n51"><rect class="r" x="538" y="2974" width="222" height="25"/><text x="649" y="2991">ns3::WifiSpectrumPhyInterface</text></g>
<g id="n52"><rect class="r" x="194" y="3043" width="160" height="25"/><text x="274" y="3060">ns3::FrequencyRange</text></g>
<g id="n53"><rect class="n" x="584" y="3247" width="130" height="26"/><text x="649" y="3264.5">std::vector&lt; T &gt;</text></g>
<g id="n54"><rect class="n" x="2498" y="3290" width="222" height="26"/><text x="2609" y="3307.5">std::vector&lt; ns3::TestCase * &gt;</text></g>
<g id="n55"><rect class="n" x="228" y="3301" width="91" height="24"/><text x="273.5" y="3317.5">time_point</text></g>
<g id="n56"><rect class="r" x="535" y="3309" width="229" height="24"/><text x="649.5" y="3325.5">ns3::SystemWallClockMsPrivate</text></g>
<g id="n57"><rect class="n" x="1053" y="3316" width="194" height="40"/><text x="1150" y="3333.2">std::vector&lt; ns3::TestCase</text><text x="1150" y="3347.8">Failure &gt;</text></g>
<g id="n58"><rect class="n" x="1622" y="3317" width="102" height="25"/><text x="1673" y="3334">TestDuration</text></g>
<g id="n59"><rect class="n" x="2915" y="3344" width="190" height="26"/><text x="3010" y="3361.5">std::vector&lt; TestSuite * &gt;</text></g>
<g id="n60"><rect class="n" x="2140" y="3355" width="111" height="26"/><text x="2195.5" y="3372.5">ns3::TestCase</text></g>
<g id="n61"><rect class="n" x="2554" y="3355" width="111" height="26"/><text x="2609.5" y="3372.5">ns3::TestSuite</text></g>
<g id="n62"><rect class="n" x="1594" y="3367" width="159" height="25"/><text x="1673.5" y="3384">ns3::TestCase::Result</text></g>
<g id="n63"><rect class="r" x="572" y="3378" width="154" height="25"/><text x="649" y="3395">ns3::TestCaseFailure</text></g>
<g id="n64"><rect class="n" x="1059" y="3381" width="182" height="25"/><text x="1150" y="3398">ns3::SystemWallClockMs</text></g>
<g id="n65"><rect class="n" x="2910" y="3394" width="200" height="40"/><text x="3010" y="3411.2">ns3::Singleton&lt; TestRunner</text><text x="3010" y="3425.8">Impl &gt;</text></g>
<g id="n66"><rect class="n" x="2533" y="3404" width="152" height="26"/><text x="2609" y="3421.5">ns3::Singleton&lt; T &gt;</text></g>
<g id="n67"><rect class="n" x="3235" y="3402" width="151" height="25"/><text x="3310.5" y="3419">ns3::TestRunnerImpl</text></g>
<g id="n68"><rect class="n" x="2171" y="3414" width="52" height="26"/><text x="2197" y="3431.5">Type</text></g>
<g id="n69"><rect class="n" x="5" y="3440" width="139" height="40"/><text x="74.5" y="3457.2">std::basic_string&lt;</text><text x="74.5" y="3471.8">Char &gt;</text></g>
<g id="n70"><rect class="n" x="230" y="3448" width="88" height="24"/><text x="274" y="3464.5">std::string</text></g>
</svg>
